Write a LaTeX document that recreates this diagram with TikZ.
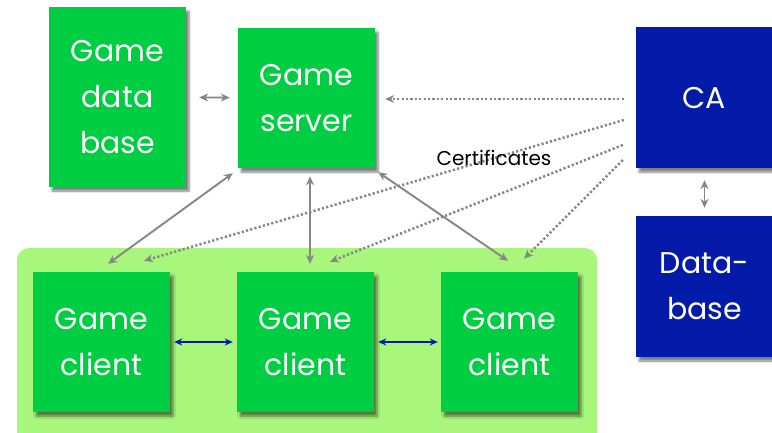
\documentclass[tikz,border=0pt]{standalone}
\usepackage{fontspec}
\setmainfont{Poppins}
\usetikzlibrary{arrows.meta,shadows.blur}
\definecolor{boxgreen}{RGB}{0,206,66}
\definecolor{panelgreen}{RGB}{168,246,124}
\definecolor{cablue}{RGB}{3,27,168}
\definecolor{linkgray}{RGB}{134,134,134}
\tikzset{
  box/.style={fill=boxgreen, text=white, minimum width=137pt, minimum height=140pt,
    inner sep=0pt, align=center, font=\fontsize{30}{46}\selectfont,
    blur shadow={shadow xshift=3pt, shadow yshift=-4pt, shadow blur steps=6, shadow opacity=50}},
  bluebox/.style={box, fill=cablue},
  link/.style={draw=linkgray, line width=1.9pt,
    {Stealth[length=9pt,width=8pt]}-{Stealth[length=9pt,width=8pt]}},
  cert/.style={draw=linkgray, line width=2.5pt, dash pattern=on 2.2pt off 2.2pt,
    -{Stealth[length=9pt,width=8pt]}},
  peer/.style={draw=cablue, line width=1.5pt,
    {Stealth[length=8pt,width=7pt]}-{Stealth[length=8pt,width=7pt]}}
}
\begin{document}
\begin{tikzpicture}[x=1pt,y=-1pt]
  \useasboundingbox (0,0) rectangle (772,432);
  \clip (0,0) rectangle (772,432);

  % client group panel
  \fill[panelgreen, rounded corners=12pt] (17,248) rectangle (597,460);

  % boxes
  \node[box, minimum height=180pt] (gamedb) at (117.5,97) {Game\\data\\base};
  \node[box] (server) at (306.5,98) {Game\\server};
  \node[bluebox, minimum height=141pt] (ca) at (704.5,97.5) {CA};
  \node[bluebox, minimum height=141pt] (db) at (704.5,286.5) {Data-\\base};
  \node[box] (c1) at (101.5,342) {Game\\client};
  \node[box] (c2) at (305.5,342) {Game\\client};
  \node[box] (c3) at (509.5,342) {Game\\client};

  % server links
  \draw[link, shorten <=13pt, shorten >=8pt] (gamedb) -- (server);
  \draw[link] ([xshift=-5pt,yshift=-5pt]server.south west) -- ([xshift=6.5pt,yshift=8pt]c1.north);
  \draw[link] ([xshift=3.5pt,yshift=-8pt]server.south) -- ([xshift=4.5pt,yshift=8pt]c2.north);
  \draw[link] ([xshift=3pt,yshift=-4pt]server.south east) -- ([xshift=-1.5pt,yshift=11pt]c3.north);
  \draw[link, line width=1.6pt, shorten <=12pt, shorten >=8pt] (ca) -- (db);

  % certificates from the CA
  \draw[cert] ([xshift=-12pt,yshift=-1.5pt]ca.west) -- ([xshift=10pt,yshift=-1pt]server.east);
  \draw[cert] ([xshift=-12pt,yshift=-22.5pt]ca.west) -- ([xshift=42.5pt,yshift=11pt]c1.north);
  \draw[cert] ([xshift=-13pt,yshift=-47.5pt]ca.west) -- ([xshift=24.5pt,yshift=10pt]c2.north);
  \draw[cert] ([xshift=-13pt,yshift=-62.5pt]ca.west) -- ([xshift=14.5pt,yshift=13pt]c3.north);
  \node[font=\fontsize{20}{24}\selectfont] (certlabel) at (494,158) {Certificates};

  % peer-to-peer links
  \draw[peer, shorten <=4pt, shorten >=4pt] (c1) -- (c2);
  \draw[peer, shorten <=4pt, shorten >=3pt] (c2) -- (c3);
\end{tikzpicture}
\end{document}
